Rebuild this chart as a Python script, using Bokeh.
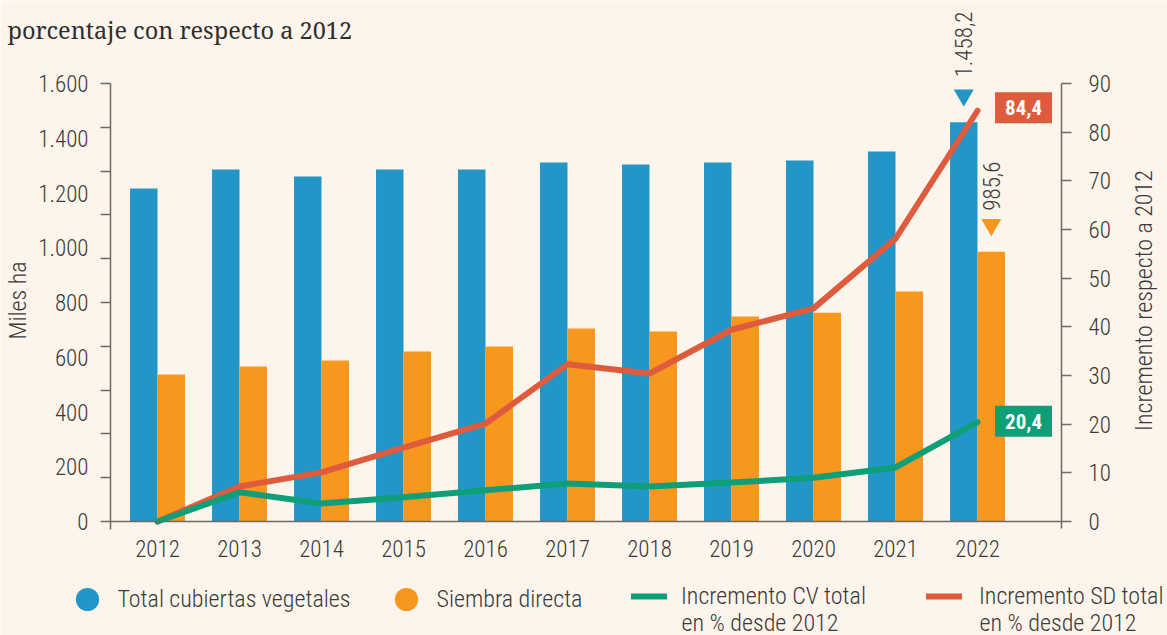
import math
from bokeh.plotting import figure
from bokeh.models import (Range1d, LinearAxis, FixedTicker, Label, Legend, LegendItem,
                          ColumnDataSource)
from bokeh.transform import dodge
from bokeh.embed import file_html
from bokeh.resources import INLINE

# ---------------- data ----------------
years = [2012, 2013, 2014, 2015, 2016, 2017, 2018, 2019, 2020, 2021, 2022]
total_cubiertas = [1216, 1286, 1260, 1286, 1286, 1311, 1304, 1311, 1319, 1352, 1458.2]
siembra_directa = [537, 566, 588, 621, 639, 705, 694, 749, 763, 840, 985.6]
incremento_cv = [0, 6.0, 3.7, 5.0, 6.4, 7.8, 7.2, 8.0, 9.0, 11.1, 20.4]
incremento_sd = [0, 7.2, 10.1, 15.2, 20.1, 32.3, 30.4, 39.4, 43.8, 58.1, 84.4]

left_ticks = [0, 200, 400, 600, 800, 1000, 1200, 1400, 1600]
left_tick_labels = ["0", "200", "400", "600", "800", "1.000", "1.200", "1.400", "1.600"]
right_ticks = [0, 10, 20, 30, 40, 50, 60, 70, 80, 90]
right_tick_labels = ["0", "10", "20", "30", "40", "50", "60", "70", "80", "90"]

title_text = "porcentaje con respecto a 2012"
left_label = "Miles ha"
right_label = "Incremento respecto a 2012"
legend_labels = ["Total cubiertas vegetales", "Siembra directa",
                 "Incremento CV total", "Incremento SD total"]
legend_second_line = "en % desde 2012"


def fmt_es(v):
    s = f"{v:,.1f}"
    return s.replace(",", "X").replace(".", ",").replace("X", ".")


# ---------------- style / layout ----------------
BG = "#fdf5eb"
BLUE = "#2196c7"
ORANGE = "#f7971e"
GREEN = "#0e9f78"
RED = "#de5b3e"
TXT = "#3a3a3a"
AX = "#6e6a66"
FONT = "Roboto Condensed Light"
FONT_B = "Roboto Condensed"

W, H = 1167, 635
AXIS_L_PX, AXIS_R_PX = 110, 1061          # pixel columns of the two value axes
TOP_PX, ZERO_PX = 83, 521                 # pixel rows of the axes' top and of value 0
FIRST_PX, STEP_PX = 157, 82               # centre of first year group, spacing
LEFT_MAX, RIGHT_MAX = 1600, 90

u_left = LEFT_MAX / (ZERO_PX - TOP_PX)     # left-axis units per pixel
u_right = RIGHT_MAX / (ZERO_PX - TOP_PX)   # right-axis units per pixel
x_at = lambda px: years[0] + (px - FIRST_PX) / STEP_PX

x_range = Range1d(x_at(0), x_at(W))
y_range = Range1d(-(H - ZERO_PX) * u_left, LEFT_MAX + TOP_PX * u_left)

p = figure(width=W, height=H, output_backend="svg", toolbar_location=None,
           x_range=x_range, y_range=y_range,
           min_border_left=0, min_border_right=0, min_border_top=0, min_border_bottom=0,
           background_fill_color=BG, border_fill_color=BG, outline_line_color=None)
p.grid.visible = False
p.extra_y_ranges = {"pct": Range1d(-(H - ZERO_PX) * u_right, RIGHT_MAX + TOP_PX * u_right)}

# x axis (drawn at value 0)
xa = p.xaxis[0]
xa.fixed_location = 0
xa.bounds = (x_at(AXIS_L_PX), x_at(AXIS_R_PX))
xa.ticker = FixedTicker(ticks=years, minor_ticks=[])
xa.major_label_overrides = {y: str(y) for y in years}
xa.major_tick_line_color = None
xa.major_tick_out = 0
xa.major_tick_in = 0
xa.minor_tick_line_color = None
xa.major_label_standoff = 18
xa.axis_line_color = AX
xa.axis_line_width = 1.5
xa.major_label_text_font = FONT
xa.major_label_text_font_size = "23px"
xa.major_label_text_color = TXT

# left axis
ya = p.yaxis[0]
ya.fixed_location = x_at(AXIS_L_PX)
ya.bounds = (-8 * u_left, LEFT_MAX)
ya.ticker = FixedTicker(ticks=left_ticks, minor_ticks=list(range(0, LEFT_MAX + 1, 160)))
ya.major_label_overrides = dict(zip(left_ticks, left_tick_labels))
ya.major_tick_line_color = None
ya.major_tick_out = 10
ya.major_tick_in = 0
ya.minor_tick_out = 10
ya.minor_tick_in = 0
ya.minor_tick_line_color = AX
ya.minor_tick_line_width = 1.5
ya.major_label_standoff = 12
ya.axis_line_color = AX
ya.axis_line_width = 1.5
ya.major_label_text_font = FONT
ya.major_label_text_font_size = "23px"
ya.major_label_text_color = TXT

# right axis
yr = LinearAxis(y_range_name="pct", ticker=FixedTicker(ticks=right_ticks, minor_ticks=[]))
yr.fixed_location = x_at(AXIS_R_PX)
yr.bounds = (-7 * u_right, RIGHT_MAX)
yr.major_label_overrides = dict(zip(right_ticks, right_tick_labels))
yr.major_tick_out = 10
yr.major_tick_in = 0
yr.major_tick_line_color = AX
yr.major_tick_line_width = 1.5
yr.minor_tick_line_color = None
yr.major_label_standoff = 17
yr.axis_line_color = AX
yr.axis_line_width = 1.5
yr.major_label_text_font = FONT
yr.major_label_text_font_size = "23px"
yr.major_label_text_color = TXT
p.add_layout(yr, "right")

# ---------------- glyphs ----------------
src = ColumnDataSource(dict(year=years, cv=total_cubiertas, sd=siembra_directa,
                            inc_cv=incremento_cv, inc_sd=incremento_sd))
BW = 0.335
p.vbar(x=dodge("year", -BW / 2, range=p.x_range), top="cv", width=BW, source=src,
       fill_color=BLUE, line_color=None)
p.vbar(x=dodge("year", BW / 2, range=p.x_range), top="sd", width=BW, source=src,
       fill_color=ORANGE, line_color=None)
r_sd = p.line("year", "inc_sd", source=src, y_range_name="pct", line_color=RED, line_width=6,
              line_join="round", line_cap="round")
r_cv = p.line("year", "inc_cv", source=src, y_range_name="pct", line_color=GREEN, line_width=6,
              line_join="round", line_cap="round")

# end-of-series markers and value labels
last = len(years) - 1
tri_off = 27 * u_left
p.scatter(x=[years[last] - BW / 2], y=[total_cubiertas[last] + tri_off], marker="inverted_triangle",
          size=20, fill_color=BLUE, line_color=None)
p.scatter(x=[years[last] + BW / 2], y=[siembra_directa[last] + tri_off], marker="inverted_triangle",
          size=20, fill_color=ORANGE, line_color=None)
p.add_layout(Label(x=years[last] - BW / 2, y=total_cubiertas[last], y_offset=45,
                   text=fmt_es(total_cubiertas[last]), angle=math.pi / 2,
                   text_align="left", text_baseline="middle", text_font=FONT,
                   text_font_size="23px", text_color=TXT))
p.add_layout(Label(x=years[last] + BW / 2, y=siembra_directa[last], y_offset=41,
                   text=fmt_es(siembra_directa[last]), angle=math.pi / 2,
                   text_align="left", text_baseline="middle", text_font=FONT,
                   text_font_size="23px", text_color=TXT))

p.add_layout(Label(x=years[last], y=incremento_sd[last], y_range_name="pct", x_offset=46, y_offset=3,
                   text=fmt_es(incremento_sd[last]), text_align="center", text_baseline="middle",
                   text_font=FONT_B, text_font_style="bold", text_font_size="21px",
                   text_color="white", background_fill_color=RED, padding=dict(x=10, y=8)))
p.add_layout(Label(x=years[last], y=incremento_cv[last], y_range_name="pct", x_offset=46, y_offset=1,
                   text=fmt_es(incremento_cv[last]), text_align="center", text_baseline="middle",
                   text_font=FONT_B, text_font_style="bold", text_font_size="21px",
                   text_color="white", background_fill_color=GREEN, padding=dict(x=10, y=8)))

# ---------------- texts (screen units from bottom-left) ----------------
p.add_layout(Label(x=7, y=H - 29, x_units="screen", y_units="screen", text=title_text,
                   text_font="Noto Serif", text_font_size="23.5px", text_color="#2e2e2e",
                   text_baseline="alphabetic", text_align="left"))
p.add_layout(Label(x=17, y=H - 300, x_units="screen", y_units="screen", text=left_label,
                   angle=math.pi / 2, text_align="center", text_baseline="middle",
                   text_font=FONT, text_font_size="24px", text_color=TXT))
p.add_layout(Label(x=1143, y=H - 300, x_units="screen", y_units="screen", text=right_label,
                   angle=math.pi / 2, text_align="center", text_baseline="middle",
                   text_font=FONT, text_font_size="24px", text_color=TXT))

# ---------------- legend ----------------
# invisible proxies (NaN -> nothing drawn) that give the legend its round swatches
nan = float("nan")
dot_cv = p.scatter(x=[nan], y=[nan], marker="circle", fill_color=BLUE, line_color=None)
dot_sd = p.scatter(x=[nan], y=[nan], marker="circle", fill_color=ORANGE, line_color=None)


def add_legend(renderer, label, loc, gw, gh, standoff):
    leg = Legend(items=[LegendItem(label=label, renderers=[renderer])], location=loc,
                 orientation="horizontal", glyph_width=gw, glyph_height=gh,
                 label_standoff=standoff, padding=0, margin=0, spacing=0,
                 border_line_color=None, background_fill_alpha=0,
                 label_text_font=FONT, label_text_font_size="24px", label_text_color=TXT)
    p.add_layout(leg)


add_legend(dot_cv, legend_labels[0], (57.5, H - 599 - 29), 58, 58, 2)
add_legend(dot_sd, legend_labels[1], (376.5, H - 599 - 29), 58, 58, 2)
add_legend(r_cv, legend_labels[2], (631, H - 596 - 15), 36, 30, 14)
add_legend(r_sd, legend_labels[3], (926, H - 596 - 15), 36, 30, 17)

for lx in (681, 979):
    p.add_layout(Label(x=lx, y=H - 622, x_units="screen", y_units="screen", text=legend_second_line,
                       text_align="left", text_baseline="middle", text_font=FONT,
                       text_font_size="24px", text_color=TXT))

open("out.html", "w").write(file_html(p, INLINE))
